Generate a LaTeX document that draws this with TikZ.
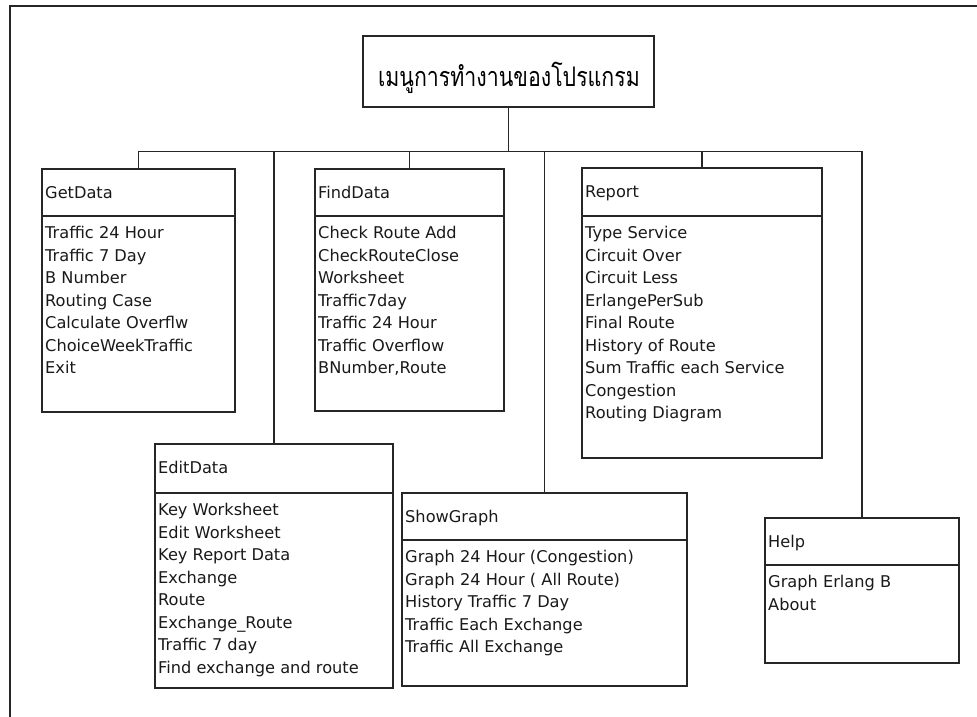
\documentclass[tikz,border=0pt]{standalone}
\usepackage{fontspec}
\setmainfont{DejaVu Sans}
\newfontfamily\thaifont[Script=Thai]{Loma}

% One menu box: #1 name, #2 left, #3 right, #4 top, #5 divider, #6 bottom, #7 header, #8 entries
\newcommand\menubox[8]{%
  \node[box, anchor=north west, minimum width={(#3-#2)*1pt}, minimum height={(#6-#4)*1pt}] (#1) at (#2,#4) {};
  \node[entry, anchor=base west] (#1-h) at ({#2+4},{#4+30}) {#7};
  \draw[boxline] ({#2},{#5}) -- ({#3},{#5});
  \foreach \t [count=\i from 0] in {#8}
    \node[entry, anchor=base west] (#1-\i) at ({#2+4},{#5+22.5+22.5*\i}) {\t};
}

\begin{document}
\begin{tikzpicture}[x=1pt, y=-1pt,
  boxline/.style={line width=1.9pt, draw=black!85},
  box/.style={boxline, rectangle, inner sep=0pt},
  entry/.style={inner sep=0pt, font=\fontsize{16.2}{19}\selectfont, text=black!90},
  link/.style={line width=1.9pt, draw=black!85}]
\useasboundingbox (0,0) rectangle (977,717);

% page frame (only top and left edges are visible)
\draw[line width=1.6pt, black!85] (977,6) -- (10,6) -- (10,717);

% root
\node[box, minimum width=291pt, minimum height=71pt] (title) at (508.5,71.5) {};
\node[inner sep=0pt, anchor=base, font=\thaifont\fontsize{27}{30}\selectfont] (title-t) at (509,86)
  {\scalebox{0.79}[1]{เมนูการทำงานของโปรแกรม}};

% menus
\menubox{get}{41}{234}{168}{216}{411}{GetData}{Traffic 24 Hour,Traffic 7 Day,B Number,Routing Case,Calculate Overflw,ChoiceWeekTraffic,Exit}
\menubox{find}{314}{503}{168}{216}{410}{FindData}{Check Route Add,CheckRouteClose,Worksheet,Traffic7day,Traffic 24 Hour,Traffic Overflow,{BNumber,Route}}
\menubox{report}{581}{821}{167}{216}{457}{Report}{Type Service,Circuit Over,Circuit Less,ErlangePerSub,Final Route,History of Route,Sum Traffic each Service,Congestion,Routing Diagram}
\menubox{edit}{154}{392}{443}{493}{687}{EditData}{Key Worksheet,Edit Worksheet,Key Report Data,Exchange,Route,Exchange\_Route,Traffic 7 day,Find exchange and route}
\menubox{show}{401}{686}{492}{540}{685}{ShowGraph}{Graph 24 Hour (Congestion),Graph 24 Hour ( All Route),History Traffic 7 Day,Traffic Each Exchange,Traffic All Exchange}
\menubox{help}{764}{958}{517}{565}{662}{Help}{Graph Erlang B,About}

% connectors via the horizontal bus
\coordinate (bus) at (0,151.5);
\draw[link] (title.south) -- (title.south |- bus);
\draw[link] (get.north) -- (get.north |- bus) -- (help.north |- bus) -- (help.north);
\draw[link] (find.north) -- (find.north |- bus);
\draw[link] (report.north) -- (report.north |- bus);
\draw[link] (edit.north) -- (edit.north |- bus);
\draw[link] (show.north) -- (show.north |- bus);
\end{tikzpicture}
\end{document}
